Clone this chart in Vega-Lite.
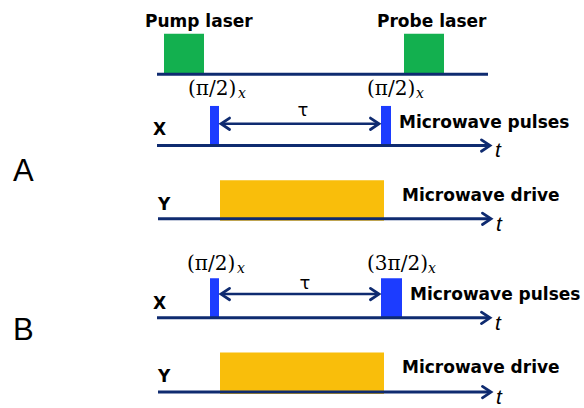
{
  "$schema": "https://vega.github.io/schema/vega-lite/v6.json",
  "width": 584,
  "height": 408,
  "padding": 0,
  "autosize": {"type": "fit", "contains": "padding"},
  "background": "white",
  "config": {"view": {"stroke": null}},
  "datasets": {
    "rects": [
      {"x1": 164, "x2": 204, "y1": 34, "y2": 74, "kind": "laser"},
      {"x1": 404, "x2": 444, "y1": 34, "y2": 74, "kind": "laser"},
      {"x1": 210, "x2": 219, "y1": 107, "y2": 147, "kind": "pulse"},
      {"x1": 381, "x2": 391, "y1": 107, "y2": 147, "kind": "pulse"},
      {"x1": 220, "x2": 384, "y1": 182, "y2": 223, "kind": "drive"},
      {"x1": 210, "x2": 219, "y1": 281, "y2": 321, "kind": "pulse"},
      {"x1": 381, "x2": 402, "y1": 281, "y2": 321, "kind": "pulse"},
      {"x1": 220, "x2": 384, "y1": 356, "y2": 398, "kind": "drive"}
    ],
    "lines": [
      {"x1": 157, "x2": 488, "y": 75, "kind": "axis"},
      {"x1": 157, "x2": 489, "y": 147, "kind": "axis"},
      {"x1": 158, "x2": 490, "y": 221, "kind": "axis"},
      {"x1": 157, "x2": 489, "y": 321, "kind": "axis"},
      {"x1": 158, "x2": 490, "y": 396, "kind": "axis"},
      {"x1": 222, "x2": 378, "y": 125, "kind": "span"},
      {"x1": 222, "x2": 378, "y": 297, "kind": "span"}
    ],
    "heads": [
      {"x": 490, "y": 147, "dir": "right"},
      {"x": 491, "y": 221, "dir": "right"},
      {"x": 490, "y": 321, "dir": "right"},
      {"x": 491, "y": 396, "dir": "right"},
      {"x": 221, "y": 125, "dir": "left"},
      {"x": 379, "y": 125, "dir": "right"},
      {"x": 221, "y": 297, "dir": "left"},
      {"x": 379, "y": 297, "dir": "right"}
    ],
    "texts": [
      {"label": "Pump laser", "x": 145, "y": 27, "role": "title"},
      {"label": "Probe laser", "x": 377, "y": 27, "role": "title"},
      {"label": "Microwave pulses", "x": 399, "y": 129, "role": "title"},
      {"label": "Microwave drive", "x": 402, "y": 203, "role": "title"},
      {"label": "Microwave pulses", "x": 410, "y": 303, "role": "title"},
      {"label": "Microwave drive", "x": 402, "y": 377, "role": "title"},
      {"label": "X", "x": 153, "y": 136, "role": "title"},
      {"label": "Y", "x": 158, "y": 212, "role": "title"},
      {"label": "X", "x": 153, "y": 312, "role": "title"},
      {"label": "Y", "x": 158, "y": 386, "role": "title"},
      {"label": "(π/2)", "x": 188, "y": 96, "role": "pulse"},
      {"label": "(π/2)", "x": 367, "y": 96, "role": "pulse"},
      {"label": "(π/2)", "x": 187, "y": 273, "role": "pulse"},
      {"label": "(3π/2)", "x": 367, "y": 273, "role": "pulse"},
      {"label": "x", "x": 238, "y": 99, "role": "sub"},
      {"label": "x", "x": 416, "y": 99, "role": "sub"},
      {"label": "x", "x": 237, "y": 276, "role": "sub"},
      {"label": "x", "x": 428, "y": 276, "role": "sub"},
      {"label": "τ", "x": 303, "y": 117, "role": "tau"},
      {"label": "τ", "x": 305, "y": 292, "role": "tau"},
      {"label": "t", "x": 495, "y": 159, "role": "time"},
      {"label": "t", "x": 496, "y": 233, "role": "time"},
      {"label": "t", "x": 495, "y": 333, "role": "time"},
      {"label": "t", "x": 496, "y": 408, "role": "time"},
      {"label": "A", "x": 13, "y": 183, "role": "panel"},
      {"label": "B", "x": 13, "y": 343, "role": "panel"}
    ]
  },
  "layer": [
    {
      "data": {"name": "rects"},
      "mark": {"type": "rect"},
      "encoding": {
        "x": {"field": "x1", "type": "quantitative", "scale": {"domain": [0, 584], "nice": false, "zero": false}, "axis": null},
        "x2": {"field": "x2"},
        "y": {"field": "y1", "type": "quantitative", "scale": {"domain": [0, 408], "nice": false, "zero": false, "reverse": true}, "axis": null},
        "y2": {"field": "y2"},
        "color": {"field": "kind", "type": "nominal", "scale": {"domain": ["laser", "pulse", "drive"], "range": ["#13b04f", "#1c3cff", "#f9be0b"]}, "legend": null}
      }
    },
    {
      "data": {"name": "lines"},
      "mark": {"type": "rule", "color": "#0f2b70", "strokeCap": "butt"},
      "encoding": {
        "x": {"field": "x1", "type": "quantitative"},
        "x2": {"field": "x2"},
        "y": {"field": "y", "type": "quantitative"},
        "strokeWidth": {"field": "kind", "type": "nominal", "scale": {"domain": ["axis", "span"], "range": [3, 2.5]}, "legend": null}
      }
    },
    {
      "data": {"name": "heads"},
      "mark": {"type": "point", "shape": "M -1.5 -1 L 0 0 L -1.5 1", "filled": false, "stroke": "#0f2b70", "strokeWidth": 2.8, "opacity": 1, "size": 130, "strokeCap": "round", "strokeJoin": "miter"},
      "encoding": {
        "x": {"field": "x", "type": "quantitative"},
        "y": {"field": "y", "type": "quantitative"},
        "angle": {"field": "dir", "type": "nominal", "scale": {"domain": ["right", "left"], "range": [0, 180]}, "legend": null}
      }
    },
    {
      "data": {"name": "texts"},
      "transform": [{"filter": "datum.role === 'title'"}],
      "mark": {"type": "text", "font": "DejaVu Sans", "fontWeight": "bold", "fontSize": 17, "align": "left", "baseline": "alphabetic", "color": "black"},
      "encoding": {
        "x": {"field": "x", "type": "quantitative"},
        "y": {"field": "y", "type": "quantitative"},
        "text": {"field": "label"}
      }
    },
    {
      "data": {"name": "texts"},
      "transform": [{"filter": "datum.role === 'pulse'"}],
      "mark": {"type": "text", "font": "DejaVu Serif", "fontSize": 20, "align": "left", "baseline": "alphabetic", "color": "black"},
      "encoding": {
        "x": {"field": "x", "type": "quantitative"},
        "y": {"field": "y", "type": "quantitative"},
        "text": {"field": "label"}
      }
    },
    {
      "data": {"name": "texts"},
      "transform": [{"filter": "datum.role === 'sub'"}],
      "mark": {"type": "text", "font": "DejaVu Serif", "fontStyle": "italic", "fontSize": 14, "align": "left", "baseline": "alphabetic", "color": "black"},
      "encoding": {
        "x": {"field": "x", "type": "quantitative"},
        "y": {"field": "y", "type": "quantitative"},
        "text": {"field": "label"}
      }
    },
    {
      "data": {"name": "texts"},
      "transform": [{"filter": "datum.role === 'tau'"}],
      "mark": {"type": "text", "font": "DejaVu Sans", "fontSize": 18, "align": "center", "baseline": "alphabetic", "color": "black"},
      "encoding": {
        "x": {"field": "x", "type": "quantitative"},
        "y": {"field": "y", "type": "quantitative"},
        "text": {"field": "label"}
      }
    },
    {
      "data": {"name": "texts"},
      "transform": [{"filter": "datum.role === 'time'"}],
      "mark": {"type": "text", "font": "Liberation Sans", "fontStyle": "italic", "fontSize": 21, "align": "left", "baseline": "alphabetic", "color": "black"},
      "encoding": {
        "x": {"field": "x", "type": "quantitative"},
        "y": {"field": "y", "type": "quantitative"},
        "text": {"field": "label"}
      }
    },
    {
      "data": {"name": "texts"},
      "transform": [{"filter": "datum.role === 'panel'"}],
      "mark": {"type": "text", "font": "Liberation Sans", "fontSize": 31, "align": "left", "baseline": "alphabetic", "color": "black"},
      "encoding": {
        "x": {"field": "x", "type": "quantitative"},
        "y": {"field": "y", "type": "quantitative"},
        "text": {"field": "label"}
      }
    }
  ]
}
